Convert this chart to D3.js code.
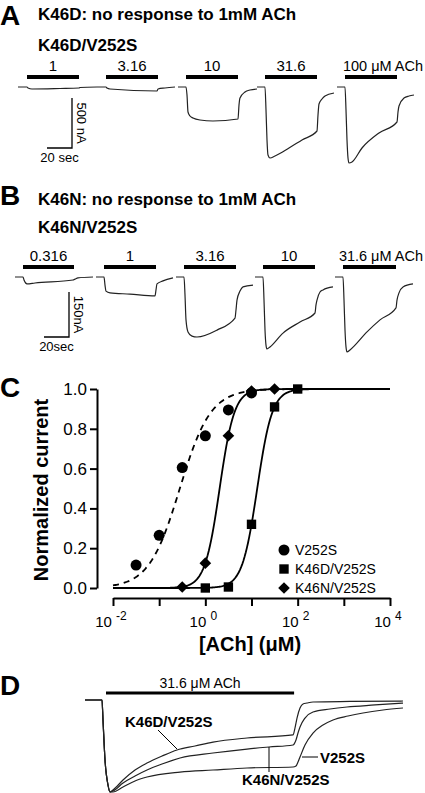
<!DOCTYPE html>
<html><head><meta charset="utf-8">
<script src="https://cdn.jsdelivr.net/npm/d3@7"></script>
<style>body{margin:0;background:#fff}svg{display:block}</style>
</head><body><svg id="fig" width="425" height="793"></svg>
<script>
// ---------- DATA ----------
// Panel A: K46D/V252S sweeps (time s, current nA)
const aLabels = ["1", "3.16", "10", "31.6", "100 \u03BCM ACh"];
const aBars = [[7.2, 48.8], [70.4, 112], [134.4, 176], [197.6, 239.2], [261.6, 303.2]];
const traceA1 = [[0,0],[7.2,0],[8,-10],[11.2,-20],[33.6,-15],[48.8,-10],[49.6,-5],[63.2,0]];
const traceA2 = [[63.2,0],[70.4,0],[71.2,-10],[73.6,-20],[111.2,-40],[112,-20],[117.6,-10],[125.6,0]];
const traceA3 = [[128,0],[134.4,0],[135.2,-80],[136,-250],[137.6,-290],[140,-310],[145.6,-330],[156,-340],[176,-320],[176.8,-180],[177.6,-110],[181.6,-50],[185.6,-30],[191.2,-20]];
const traceA4 = [[191.2,0],[197.6,0],[198.4,-230],[199.2,-530],[200,-680],[201.6,-710],[205.6,-690],[216.8,-610],[227.2,-530],[239.2,-440],[240,-280],[240.8,-170],[243.2,-120],[245.6,-90],[252.8,-60]];
const traceA5 = [[255.2,0],[261.6,0],[262.4,-230],[263.2,-530],[264,-710],[264.8,-760],[267.2,-750],[275.2,-610],[288.8,-460],[303.2,-350],[304,-250],[304.8,-190],[308.8,-110],[312.8,-90],[316.8,-80]];

// Panel B: K46N/V252S sweeps (time s, current nA)
const bLabels = ["0.316", "1", "3.16", "10", "31.6 \u03BCM ACh"];
const bBars = [[6.4, 47.2], [71.2, 112.8], [135.2, 176.8], [198.4, 240], [262.4, 304.8]];
const traceB1 = [[0,0],[6.4,0],[7.2,-10],[9.6,-23],[16,-20],[46.4,-10],[48,-7],[50.4,-3],[62.4,0]];
const traceB2 = [[64.8,0],[71.2,0],[72,-27],[72.8,-47],[76,-53],[92,-57],[112,-63],[112.8,-43],[113.6,-23],[118.4,-13],[126.4,-3]];
const traceB3 = [[128.8,0],[135.2,0],[136,-60],[136.8,-143],[138.4,-183],[141.6,-197],[145.6,-200],[161.6,-177],[176,-137],[176.8,-110],[177.6,-77],[180,-47],[182.4,-33],[190.4,-27]];
const traceB4 = [[192,0],[198.4,0],[199.2,-77],[200,-177],[200.8,-227],[201.6,-240],[204,-233],[214.4,-187],[228,-150],[240,-120],[240.8,-93],[241.6,-77],[244,-50],[246.4,-43],[254.4,-33]];
const traceB5 = [[256,0],[262.4,0],[263.2,-77],[264,-177],[264.8,-233],[265.6,-250],[268,-243],[281.6,-183],[292,-143],[304.8,-103],[305.6,-77],[307.2,-53],[310.4,-33],[318.4,-23]];

// Panel C: concentration-response (µM, normalized current)
const concV252S = [0.0316, 0.1, 0.316, 1, 3.16, 10];
const respV252S = [0.115, 0.265, 0.605, 0.765, 0.895, 0.98];
const concK46D = [1, 3.16, 10, 31.6, 100];
const respK46D = [0.0, 0.005, 0.32, 0.91, 1.0];
const concK46N = [0.316, 1, 3.16, 10, 31.6];
const respK46N = [0.005, 0.125, 0.765, 0.99, 1.0];
const seriesNames = ["V252S", "K46D/V252S", "K46N/V252S"];
const fitEC50 = [0.28, 13.3, 2.04];
const fitHill = [1.3, 2.67, 2.72];
const cYTicks = [0, 0.2, 0.4, 0.6, 0.8, 1.0];
const cXTicks = [0.01, 0.1, 1, 10, 100, 1000, 10000];
const cXLabelExp = ["-2", "0", "2", "4"];

// Panel D: normalized responses to 31.6 µM ACh (time s, normalized current)
const dLabel = "31.6 \u03BCM ACh";
const dBar = [7, 69.7];
const traceDK46D = [[0,0],[5.67,0],[6,-0.217],[6.67,-0.652],[7.67,-0.924],[8.33,-1],[9.33,-0.978],[12.67,-0.87],[16.67,-0.761],[20.67,-0.685],[25.67,-0.609],[30.67,-0.543],[36.67,-0.5],[42.67,-0.457],[54,-0.413],[69.33,-0.38],[70,-0.304],[70.67,-0.196],[71.67,-0.087],[72.67,-0.043],[74,-0.033],[76,-0.022],[88.33,-0.016],[106,-0.011]];
const traceDK46N = [[0,0],[5.67,0],[6,-0.217],[6.67,-0.652],[7.67,-0.924],[8.33,-1],[9.33,-0.989],[12.67,-0.902],[16.67,-0.826],[20.67,-0.761],[25.67,-0.696],[31.67,-0.63],[42.67,-0.576],[54,-0.533],[61.33,-0.511],[69.33,-0.489],[70.33,-0.435],[71,-0.359],[71.67,-0.293],[73.33,-0.196],[76,-0.13],[81.67,-0.098],[87.33,-0.076],[96.67,-0.054],[106,-0.033]];
const traceDV252S = [[0,0],[5.67,0],[6,-0.217],[6.67,-0.652],[7.67,-0.924],[8.33,-1],[9.33,-1],[12.67,-0.946],[16.67,-0.88],[20.67,-0.837],[31.67,-0.783],[42.67,-0.761],[54,-0.739],[69.33,-0.728],[70.33,-0.717],[71,-0.674],[71.67,-0.62],[73.33,-0.489],[76,-0.359],[79.33,-0.272],[82.67,-0.217],[87.67,-0.174],[92.67,-0.141],[99.33,-0.109],[106,-0.087]];

// ---------- DRAWING ----------
const FONT = "'Liberation Sans', Arial, Helvetica, sans-serif";
const svg = d3.select("#fig").style("font-family", FONT);
svg.append("rect").attr("width", 425).attr("height", 793).attr("fill", "#fff");

function txt(x, y, s, size, weight, anchor) {
  return svg.append("text").attr("x", x).attr("y", y).text(s)
    .attr("font-size", size).attr("font-weight", weight || "normal")
    .attr("text-anchor", anchor || "start").attr("fill", "#000");
}

// panel letters
txt(0, 25, "A", 28, "bold");
txt(0, 205, "B", 28, "bold");
txt(0, 397, "C", 28, "bold");
txt(0, 695, "D", 28, "bold");

// ---- Panel A ----
txt(38, 20, "K46D: no response to 1mM ACh", 17, "bold");
txt(38, 51, "K46D/V252S", 17, "bold");
const xA = d3.scaleLinear().domain([0, 340]).range([18, 443]);
const yA = d3.scaleLinear().domain([-800, 0]).range([167, 87]);
const lineA = d3.line().x(d => xA(d[0])).y(d => yA(d[1])).curve(d3.curveMonotoneX);
[traceA1, traceA2, traceA3, traceA4, traceA5].forEach(tr => {
  svg.append("path").attr("d", lineA(tr)).attr("fill", "none").attr("stroke", "#222").attr("stroke-width", 1.2);
});
aBars.forEach((b, i) => {
  svg.append("line").attr("x1", xA(b[0])).attr("x2", xA(b[1])).attr("y1", 77).attr("y2", 77)
    .attr("stroke", "#000").attr("stroke-width", 4);
  if (i < aBars.length - 1) txt((xA(b[0]) + xA(b[1])) / 2, 71, aLabels[i], 15, "normal", "middle");
  else txt(423, 71, aLabels[i], 14.5, "normal", "end");
});
// scale bar A (500 nA, 20 s)
svg.append("path").attr("d", `M${xA(23.2)},${yA(-610)}H${xA(43.2)}V${yA(-110)}`)
  .attr("fill", "none").attr("stroke", "#000").attr("stroke-width", 1.3);
svg.append("text").attr("transform", `translate(${xA(43.2) + 5},${(yA(-110) + yA(-610)) / 2}) rotate(90)`)
  .attr("text-anchor", "middle").attr("font-size", 13).text("500 nA");
txt((xA(23.2) + xA(43.2)) / 2, 162, "20 sec", 13, "normal", "middle");

// ---- Panel B ----
txt(38, 205, "K46N: no response to 1mM ACh", 17, "bold");
txt(38, 233, "K46N/V252S", 17, "bold");
const xB = d3.scaleLinear().domain([0, 340]).range([15, 440]);
const yB = d3.scaleLinear().domain([-300, 0]).range([367, 277]);
const lineB = d3.line().x(d => xB(d[0])).y(d => yB(d[1])).curve(d3.curveMonotoneX);
[traceB1, traceB2, traceB3, traceB4, traceB5].forEach(tr => {
  svg.append("path").attr("d", lineB(tr)).attr("fill", "none").attr("stroke", "#222").attr("stroke-width", 1.2);
});
bBars.forEach((b, i) => {
  svg.append("line").attr("x1", xB(b[0])).attr("x2", xB(b[1])).attr("y1", 267).attr("y2", 267)
    .attr("stroke", "#000").attr("stroke-width", 4);
  if (i < bBars.length - 1) txt((xB(b[0]) + xB(b[1])) / 2, 261, bLabels[i], 15, "normal", "middle");
  else txt(423, 261, bLabels[i], 14.5, "normal", "end");
});
svg.append("path").attr("d", `M${xB(23.2)},${yB(-200)}H${xB(43.2)}V${yB(-50)}`)
  .attr("fill", "none").attr("stroke", "#000").attr("stroke-width", 1.3);
svg.append("text").attr("transform", `translate(${xB(43.2) + 5},${(yB(-50) + yB(-200)) / 2}) rotate(90)`)
  .attr("text-anchor", "middle").attr("font-size", 13).text("150nA");
txt((xB(23.2) + xB(43.2)) / 2, 351, "20sec", 13, "normal", "middle");

// ---- Panel C ----
const xC = d3.scaleLog().domain([0.01, 10000]).range([113, 390]);
const yC = d3.scaleLinear().domain([0, 1]).range([588, 389]);
const yAxis = d3.axisLeft(yC).tickValues(cYTicks).tickFormat(d3.format(".1f")).tickSize(7).tickSizeOuter(0).tickPadding(3);
const gy = svg.append("g").attr("transform", "translate(97,0)").call(yAxis);
gy.selectAll("path,line").attr("stroke", "#000").attr("stroke-width", 2);
gy.selectAll("text").attr("font-size", 17).attr("font-family", FONT).attr("fill", "#000");
const xAxis = d3.axisBottom(xC).tickValues(cXTicks).tickFormat("").tickSize(8).tickSizeOuter(0);
const gx = svg.append("g").attr("transform", "translate(0,598)").call(xAxis);
gx.selectAll("path,line").attr("stroke", "#000").attr("stroke-width", 2);
cXLabelExp.forEach((e, i) => {
  const v = Math.pow(10, +e);
  const t = svg.append("text").attr("x", xC(v) - 2).attr("y", 627).attr("text-anchor", "middle")
    .attr("font-size", 15);
  t.append("tspan").text("10 ");
  t.append("tspan").attr("dy", -7).attr("font-size", 12).text(e);
});
txt(250, 651, "[ACh] (\u03BCM)", 20, "bold", "middle");
svg.append("text").attr("transform", "translate(48,490) rotate(-90)").attr("text-anchor", "middle")
  .attr("font-size", 20).attr("font-weight", "bold").text("Normalized current");

// fit curves
const fitX = d3.range(0, 241).map(i => Math.pow(10, -2 + i * 6 / 240));
const fitLine = d3.line().x(d => xC(d[0])).y(d => yC(d[1]));
fitEC50.forEach((ec, k) => {
  const pts = fitX.map(c => [c, 1 / (1 + Math.pow(ec / c, fitHill[k]))]);
  svg.append("path").attr("d", fitLine(pts)).attr("fill", "none").attr("stroke", "#000")
    .attr("stroke-width", 1.8).attr("stroke-dasharray", k === 0 ? "6,5" : null);
});
const symCircle = d3.symbol().type(d3.symbolCircle).size(95);
const symSquare = d3.symbol().type(d3.symbolSquare).size(88);
const symDiamond = d3.symbol().type(d3.symbolSquare).size(68);
function markers(conc, resp, sym, rot) {
  conc.forEach((c, i) => {
    svg.append("path").attr("d", sym()).attr("fill", "#000")
      .attr("transform", `translate(${xC(c)},${yC(resp[i])}) rotate(${rot})`);
  });
}
markers(concK46N, respK46N, symDiamond, 45);
markers(concK46D, respK46D, symSquare, 0);
markers(concV252S, respV252S, symCircle, 0);
// legend
const legSyms = [[symCircle, 0], [symSquare, 0], [symDiamond, 45]];
seriesNames.forEach((n, i) => {
  const y = 550 + i * 19;
  svg.append("path").attr("d", legSyms[i][0]()).attr("fill", "#000")
    .attr("transform", `translate(284,${y}) rotate(${legSyms[i][1]})`);
  txt(295, y + 5, n, 14);
});

// ---- Panel D ----
const xD = d3.scaleLinear().domain([0, 106]).range([85, 403]);
const yD = d3.scaleLinear().domain([-1, 0]).range([792, 700]);
const lineD = d3.line().x(d => xD(d[0])).y(d => yD(d[1])).curve(d3.curveMonotoneX);
[traceDK46D, traceDK46N, traceDV252S].forEach(tr => {
  svg.append("path").attr("d", lineD(tr)).attr("fill", "none").attr("stroke", "#222").attr("stroke-width", 1.2);
});
svg.append("line").attr("x1", xD(dBar[0])).attr("x2", xD(dBar[1])).attr("y1", 693).attr("y2", 693)
  .attr("stroke", "#000").attr("stroke-width", 3);
txt((xD(dBar[0]) + xD(dBar[1])) / 2, 688, dLabel, 14, "normal", "middle");
txt(125, 727, seriesNames[1], 15, "bold");
svg.append("line").attr("x1", 158).attr("y1", 730).attr("x2", 177).attr("y2", 749).attr("stroke", "#000").attr("stroke-width", 1);
txt(242, 785, seriesNames[2], 15, "bold");
svg.append("line").attr("x1", 269).attr("y1", 747).attr("x2", 269).attr("y2", 772).attr("stroke", "#000").attr("stroke-width", 1);
txt(320, 763, seriesNames[0], 15, "bold");
svg.append("line").attr("x1", 302).attr("y1", 757).attr("x2", 318).attr("y2", 757).attr("stroke", "#000").attr("stroke-width", 1);
</script></body></html>
